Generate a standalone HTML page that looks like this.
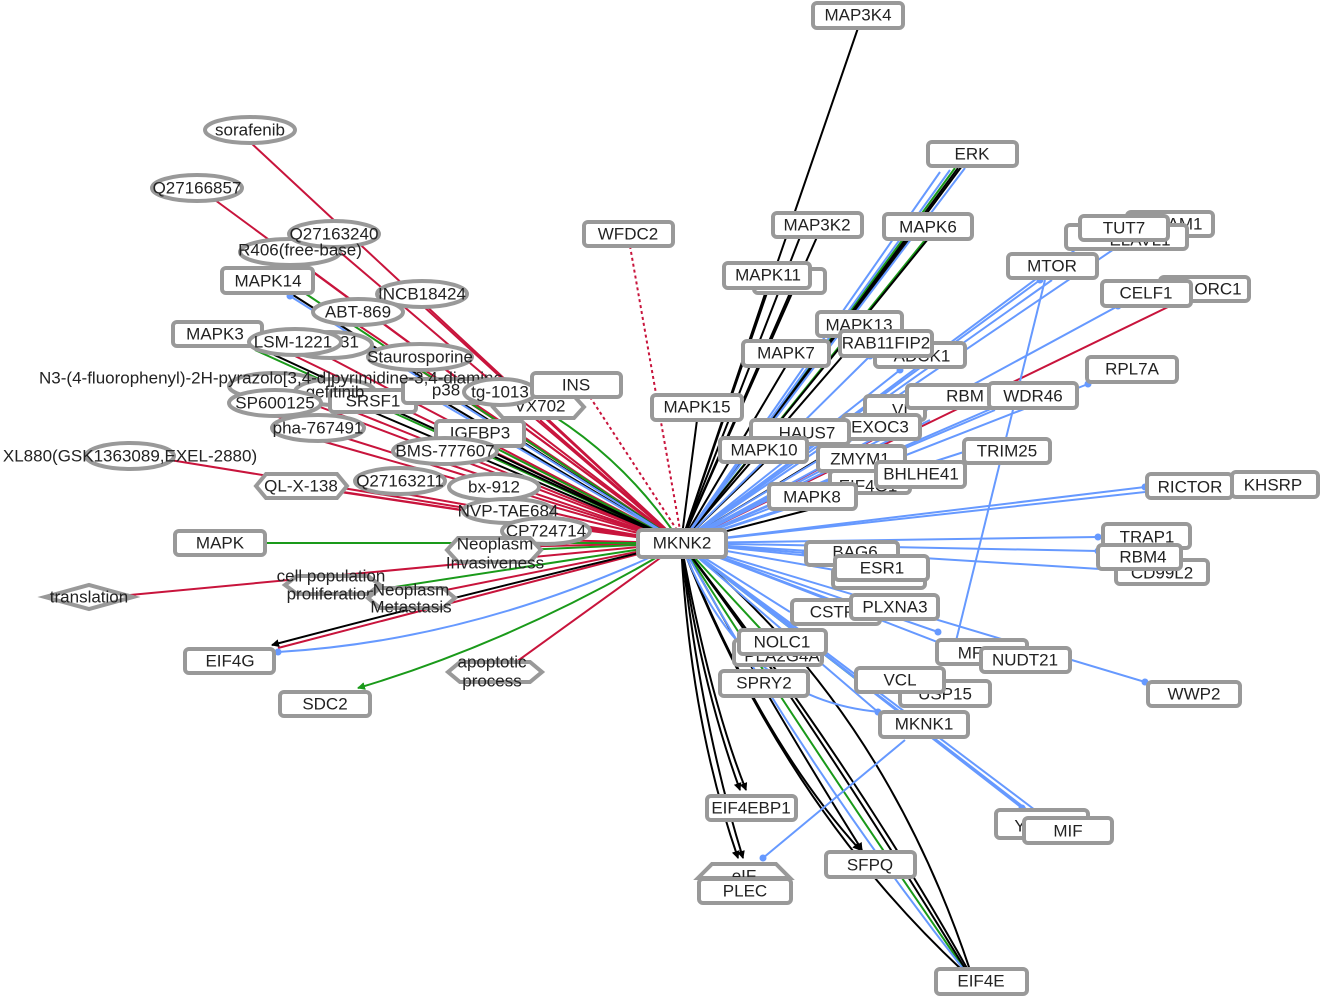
<!DOCTYPE html>
<html><head><meta charset="utf-8"><style>
html,body{margin:0;padding:0;background:#fff;}
svg{display:block;font-family:"Liberation Sans",sans-serif;}
.n rect,.n ellipse,.n polygon{fill:#fff;stroke:#999;stroke-width:4;}
text{font-size:17px;fill:#222;text-anchor:middle;dominant-baseline:central;}
.r{stroke:#c8143c;stroke-width:2;fill:none}
.k{stroke:#000;stroke-width:2;fill:none}
.g{stroke:#1a9a1a;stroke-width:2;fill:none}
.b{stroke:#6699ff;stroke-width:2;fill:none}
</style></head><body>
<svg width="1321" height="997" viewBox="0 0 1321 997">
<defs>
<marker id="ak" markerWidth="8" markerHeight="8" refX="7" refY="4" orient="auto" markerUnits="userSpaceOnUse"><path d="M0,0L8,4L0,8z" fill="#000"/></marker>
<marker id="ag" markerWidth="8" markerHeight="8" refX="7" refY="4" orient="auto" markerUnits="userSpaceOnUse"><path d="M0,0L8,4L0,8z" fill="#1a9a1a"/></marker>
<marker id="db" markerWidth="8" markerHeight="8" refX="4" refY="4" markerUnits="userSpaceOnUse"><circle cx="4" cy="4" r="3.5" fill="#6699ff"/></marker>
</defs>
<g>
<path d="M630,246L680,530" stroke="#c8143c" stroke-width="2" stroke-dasharray="3,3" fill="none"/>
<path d="M590,397L677,530" stroke="#c8143c" stroke-width="2" stroke-dasharray="3,3" fill="none"/>
<g class="r">
<path d="M681,543L250,142"/><path d="M681,543L215,200"/><path d="M681,543L334,247"/><path d="M681,543L300,262"/>
<path d="M681,543L422,305"/><path d="M681,543L358,325"/><path d="M681,543L295,356"/><path d="M681,543L330,358"/>
<path d="M681,543L420,370"/><path d="M681,543L275,390"/><path d="M681,543L335,404"/><path d="M681,543L500,404"/>
<path d="M681,543L275,416"/><path d="M681,543L318,440"/><path d="M681,543L445,463"/><path d="M681,543L170,460"/>
<path d="M681,543L300,486"/><path d="M681,543L330,490"/><path d="M681,543L400,493"/><path d="M681,543L494,499"/>
<path d="M681,543L508,520"/><path d="M681,543L546,540"/><path d="M681,543L130,595"/><path d="M681,543L505,670"/>
<path d="M681,543L1170,306"/><path d="M681,543L880,436"/><path d="M681,543L455,548"/><path d="M681,543L411,597"/>
<path d="M681,543L278,648"/><path d="M681,543L470,440"/><path d="M681,543L540,420"/><path d="M681,543L820,650"/>
</g>
<g class="g">
<path d="M265,543L676,543" marker-end="url(#ag)"/><path d="M681,543Q520,640 358,688" marker-end="url(#ag)"/>
<path d="M681,543Q820,760 965,970"/><path d="M681,543L955,168"/><path d="M681,543L925,240"/>
<path d="M681,543L455,553"/><path d="M681,543L375,590"/><path d="M681,543L300,290"/><path d="M681,543L255,350"/>
<path d="M681,543L480,440"/><path d="M681,543Q620,450 523,398"/><path d="M681,543L870,690"/><path d="M681,543L780,650"/>
</g>
<g class="k">
<path d="M681,543L858,28"/><path d="M681,543L962,166"/><path d="M681,543L958,168"/><path d="M681,543L817,237"/><path d="M681,543L800,237"/>
<path d="M681,543L928,239"/><path d="M681,543L910,239"/><path d="M681,543L767,288"/><path d="M681,543L790,293"/><path d="M681,543L860,336"/>
<path d="M681,543L786,366"/><path d="M681,543L697,420"/><path d="M681,543L765,462"/><path d="M681,543L812,509"/>
<path d="M681,543Q480,590 272,645" marker-end="url(#ak)"/>
<path d="M681,543Q700,680 740,790" marker-end="url(#ak)"/><path d="M681,543Q710,700 746,790" marker-end="url(#ak)"/>
<path d="M681,543Q690,720 738,858" marker-end="url(#ak)"/><path d="M681,543Q700,720 743,858" marker-end="url(#ak)"/>
<path d="M681,543Q760,740 860,850" marker-end="url(#ak)"/><path d="M681,543Q780,720 862,850" marker-end="url(#ak)"/>
<path d="M681,543Q780,800 962,970"/><path d="M681,543Q850,760 968,970"/><path d="M681,543Q880,700 970,970"/><path d="M681,543Q800,700 966,970"/>
<path d="M681,543L290,293"/><path d="M681,543L255,346"/><path d="M681,543L446,403"/><path d="M681,543L373,412"/><path d="M681,543L480,446"/><path d="M681,543L850,440"/>
</g>
<g class="b">
<path d="M681,543L1040,280" marker-end="url(#db)"/><path d="M681,543L1052,280"/><path d="M681,543L1120,245" marker-end="url(#db)"/><path d="M681,543L1075,250"/>
<path d="M681,543L1118,306" marker-end="url(#db)"/><path d="M681,543L1088,384" marker-end="url(#db)"/><path d="M681,543L993,408"/><path d="M681,543L995,410"/>
<path d="M681,543L885,420"/><path d="M681,543L880,440"/><path d="M681,543L870,356" marker-end="url(#db)"/><path d="M681,543L900,370" marker-end="url(#db)"/>
<path d="M681,543L1145,487" marker-end="url(#db)"/><path d="M681,543L1145,492"/><path d="M681,543L1098,537" marker-end="url(#db)"/><path d="M681,543L1098,551" marker-end="url(#db)"/>
<path d="M681,543L1116,570"/><path d="M681,543L805,553" marker-end="url(#db)"/><path d="M681,543L850,560"/><path d="M681,543L880,578"/>
<path d="M681,543L845,605" marker-end="url(#db)"/><path d="M681,543L938,632" marker-end="url(#db)"/><path d="M681,543L1015,672"/><path d="M681,543L1145,682" marker-end="url(#db)"/>
<path d="M681,543L878,712" marker-end="url(#db)"/><path d="M681,543L1022,808" marker-end="url(#db)"/><path d="M681,543L1035,810"/><path d="M681,543L1030,812"/>
<path d="M681,543Q800,760 964,970"/><path d="M681,543L965,168"/><path d="M681,543L950,170"/><path d="M681,543L940,172"/>
<path d="M681,543Q480,640 278,652" marker-end="url(#db)"/><path d="M681,543L290,296" marker-end="url(#db)"/><path d="M681,543L900,470"/><path d="M681,543L840,490"/>
<path d="M681,543L970,450"/><path d="M681,543L827,650"/><path d="M681,543Q740,700 880,712"/><path d="M681,543L930,420"/>
<path d="M1045,280L955,645"/><path d="M905,740L763,858" marker-end="url(#db)"/><path d="M681,543L790,612"/><path d="M681,543L410,385"/>
</g>
</g>

<g class="n">
<ellipse cx="250" cy="130" rx="45" ry="13"/><text x="250" y="130">sorafenib</text>
<ellipse cx="197" cy="188" rx="45" ry="13"/><text x="197" y="188">Q27166857</text>
<ellipse cx="290" cy="252" rx="50" ry="13"/>
<ellipse cx="334" cy="234" rx="45" ry="13"/><text x="334" y="234">Q27163240</text>
<text x="300" y="250">R406(free-base)</text>
<rect x="222" y="268" width="91" height="25" rx="4"/><text x="268" y="281">MAPK14</text>
<ellipse cx="422" cy="294" rx="45" ry="13"/><text x="422" y="294">INCB18424</text>
<ellipse cx="358" cy="312" rx="45" ry="13"/><text x="358" y="312">ABT-869</text>
<rect x="173" y="322" width="89" height="24" rx="4"/><text x="215" y="334">MAPK3</text>
<ellipse cx="330" cy="345" rx="42" ry="13"/><text x="340" y="342">1231</text>
<ellipse cx="295" cy="342" rx="46" ry="13"/><text x="293" y="342">LSM-1221</text>
<ellipse cx="420" cy="357" rx="52" ry="13"/><text x="420" y="357">Staurosporine</text>
<ellipse cx="275" cy="386" rx="46" ry="13"/>
<ellipse cx="335" cy="392" rx="40" ry="13"/>
<rect x="330" y="390" width="86" height="22" rx="4"/><text x="373" y="401">SRSF1</text>
<text x="335" y="392">gefitinib</text>
<rect x="403" y="379" width="87" height="24" rx="4"/><text x="446" y="390">p38</text>
<text x="271" y="378">N3-(4-fluorophenyl)-2H-pyrazolo[3,4-d]pyrimidine-3,4-diamine</text>
<ellipse cx="275" cy="403" rx="46" ry="13"/><text x="275" y="403">SP600125</text>
<polygon points="493,407 503,396 574,396 584,407 574,418 503,418"/><text x="540" y="406">VX702</text>
<ellipse cx="500" cy="392" rx="36" ry="13"/><text x="500" y="392">tg-1013</text>
<rect x="532" y="373" width="89" height="24" rx="4"/><text x="576" y="385">INS</text>
<ellipse cx="318" cy="428" rx="46" ry="13"/><text x="318" y="428">pha-767491</text>
<rect x="436" y="421" width="88" height="25" rx="4"/><text x="480" y="433">IGFBP3</text>
<ellipse cx="445" cy="451" rx="52" ry="13"/><text x="445" y="451">BMS-777607</text>
<ellipse cx="130" cy="456" rx="44" ry="13"/><text x="130" y="456">XL880(GSK1363089,EXEL-2880)</text>
<polygon points="256,486 266,474 337,474 347,486 337,498 266,498"/><text x="301" y="486">QL-X-138</text>
<ellipse cx="400" cy="481" rx="45" ry="13"/><text x="400" y="481">Q27163211</text>
<ellipse cx="494" cy="487" rx="45" ry="13"/><text x="494" y="487">bx-912</text>
<ellipse cx="508" cy="511" rx="45" ry="12"/><text x="508" y="511">NVP-TAE684</text>
<ellipse cx="546" cy="531" rx="44" ry="13"/><text x="546" y="531">CP724714</text>
<rect x="175" y="531" width="90" height="24" rx="4"/><text x="220" y="543">MAPK</text>
<polygon points="447,550 458,538 530,538 541,550 530,562 458,562"/><text x="495" y="544">Neoplasm</text><text x="495" y="563">Invasiveness</text>
<polygon points="285,585 297,576 368,576 380,585 368,594 297,594"/><text x="331" y="576">cell population</text><text x="331" y="594">proliferation</text>
<polygon points="368,598 380,588 443,588 455,598 443,608 380,608"/><text x="411" y="590">Neoplasm</text><text x="411" y="607">Metastasis</text>
<polygon points="45,597 89,585 133,597 89,609"/><text x="89" y="597">translation</text>
<rect x="185" y="649" width="89" height="24" rx="4"/><text x="230" y="661">EIF4G</text>
<rect x="280" y="692" width="90" height="24" rx="4"/><text x="325" y="704">SDC2</text>
<polygon points="448,672 460,662 530,662 542,672 530,682 460,682"/><text x="492" y="662">apoptotic</text><text x="492" y="681">process</text>
<rect x="584" y="222" width="89" height="24" rx="4"/><text x="628" y="234">WFDC2</text>
</g>

<g class="n">
<rect x="813" y="3" width="90" height="25" rx="4"/><text x="858" y="15">MAP3K4</text>
<rect x="928" y="142" width="89" height="24" rx="4"/><text x="972" y="154">ERK</text>
<rect x="773" y="213" width="89" height="24" rx="4"/><text x="817" y="225">MAP3K2</text>
<rect x="884" y="214" width="88" height="25" rx="4"/><text x="928" y="227">MAPK6</text>
<rect x="1127" y="212" width="86" height="24" rx="4"/><text x="1185" y="224">AM1</text>
<rect x="1066" y="225" width="121" height="24" rx="4"/><text x="1140" y="240">ELAVL1</text>
<rect x="1080" y="216" width="88" height="24" rx="4"/><text x="1124" y="228">TUT7</text>
<rect x="1008" y="254" width="89" height="24" rx="4"/><text x="1052" y="266">MTOR</text>
<rect x="1160" y="277" width="89" height="24" rx="4"/><text x="1218" y="289">ORC1</text>
<rect x="1102" y="281" width="89" height="25" rx="4"/><text x="1146" y="293">CELF1</text>
<rect x="754" y="269" width="71" height="24" rx="4"/><text x="790" y="281">PK12</text>
<rect x="724" y="263" width="86" height="25" rx="4"/><text x="768" y="275">MAPK11</text>
<rect x="817" y="312" width="85" height="24" rx="4"/><text x="859" y="325">MAPK13</text>
<rect x="875" y="343" width="90" height="24" rx="4"/><text x="922" y="356">ADCK1</text>
<rect x="840" y="331" width="92" height="25" rx="4"/><text x="886" y="343">RAB11FIP2</text>
<rect x="743" y="341" width="86" height="25" rx="4"/><text x="786" y="353">MAPK7</text>
<rect x="1087" y="357" width="90" height="25" rx="4"/><text x="1132" y="369">RPL7A</text>
<rect x="652" y="395" width="90" height="25" rx="4"/><text x="697" y="407">MAPK15</text>
<rect x="865" y="396" width="60" height="24" rx="4"/><text x="900" y="410">VI</text>
<rect x="907" y="385" width="93" height="23" rx="4"/><text x="965" y="396">RBM</text>
<rect x="989" y="383" width="88" height="25" rx="4"/><text x="1033" y="396">WDR46</text>
<rect x="843" y="415" width="77" height="24" rx="4"/><text x="880" y="427">EXOC3</text>
<rect x="751" y="420" width="98" height="24" rx="4"/><text x="807" y="433">HAUS7</text>
<rect x="720" y="438" width="87" height="24" rx="4"/><text x="764" y="450">MAPK10</text>
<rect x="964" y="439" width="86" height="24" rx="4"/><text x="1007" y="451">TRIM25</text>
<rect x="830" y="471" width="80" height="22" rx="4"/><text x="868" y="486">EIF4G1</text>
<rect x="818" y="446" width="87" height="25" rx="4"/><text x="860" y="459">ZMYM1</text>
<rect x="876" y="462" width="89" height="25" rx="4"/><text x="921" y="474">BHLHE41</text>
<rect x="769" y="484" width="87" height="25" rx="4"/><text x="812" y="497">MAPK8</text>
<rect x="1232" y="472" width="86" height="25" rx="4"/><text x="1273" y="485">KHSRP</text>
<rect x="1147" y="474" width="85" height="24" rx="4"/><text x="1190" y="487">RICTOR</text>
<rect x="1103" y="524" width="87" height="24" rx="4"/><text x="1147" y="537">TRAP1</text>
<rect x="1116" y="560" width="92" height="24" rx="4"/><text x="1162" y="573">CD99L2</text>
<rect x="1098" y="545" width="83" height="24" rx="4"/><text x="1143" y="557">RBM4</text>
<rect x="806" y="542" width="92" height="23" rx="4"/><text x="855" y="552">BAG6</text>
<rect x="833" y="568" width="92" height="20" rx="4"/>
<rect x="835" y="556" width="93" height="24" rx="4"/><text x="882" y="568">ESR1</text>
<rect x="792" y="600" width="88" height="24" rx="4"/><text x="832" y="612">CSTF</text>
<rect x="851" y="595" width="87" height="24" rx="4"/><text x="895" y="607">PLXNA3</text>
<rect x="734" y="640" width="88" height="25" rx="4"/><text x="782" y="656">PLA2G4A</text>
<rect x="739" y="630" width="87" height="24" rx="4"/><text x="782" y="642">NOLC1</text>
<rect x="937" y="640" width="90" height="24" rx="4"/><text x="970" y="653">MF</text>
<rect x="981" y="648" width="89" height="24" rx="4"/><text x="1025" y="660">NUDT21</text>
<rect x="1148" y="682" width="92" height="24" rx="4"/><text x="1194" y="694">WWP2</text>
<rect x="720" y="671" width="88" height="25" rx="4"/><text x="764" y="683">SPRY2</text>
<rect x="900" y="681" width="90" height="25" rx="4"/><text x="945" y="694">USP15</text>
<rect x="856" y="668" width="88" height="24" rx="4"/><text x="900" y="680">VCL</text>
<rect x="880" y="712" width="88" height="25" rx="4"/><text x="924" y="724">MKNK1</text>
<rect x="707" y="796" width="89" height="24" rx="4"/><text x="751" y="808">EIF4EBP1</text>
<rect x="996" y="810" width="92" height="28" rx="4"/><text x="1020" y="826">Y</text>
<rect x="1024" y="818" width="88" height="25" rx="4"/><text x="1068" y="831">MIF</text>
<rect x="826" y="852" width="89" height="25" rx="4"/><text x="870" y="865">SFPQ</text>
<polygon points="698,878 712,864 776,864 790,878"/><text x="744" y="876">eIF</text>
<rect x="699" y="879" width="92" height="24" rx="4"/><text x="745" y="891">PLEC</text>
<rect x="936" y="969" width="91" height="25" rx="4"/><text x="981" y="981">EIF4E</text>
<rect x="638" y="530" width="88" height="27" rx="4"/><text x="682" y="543">MKNK2</text>
</g>
</svg>
</body></html>
